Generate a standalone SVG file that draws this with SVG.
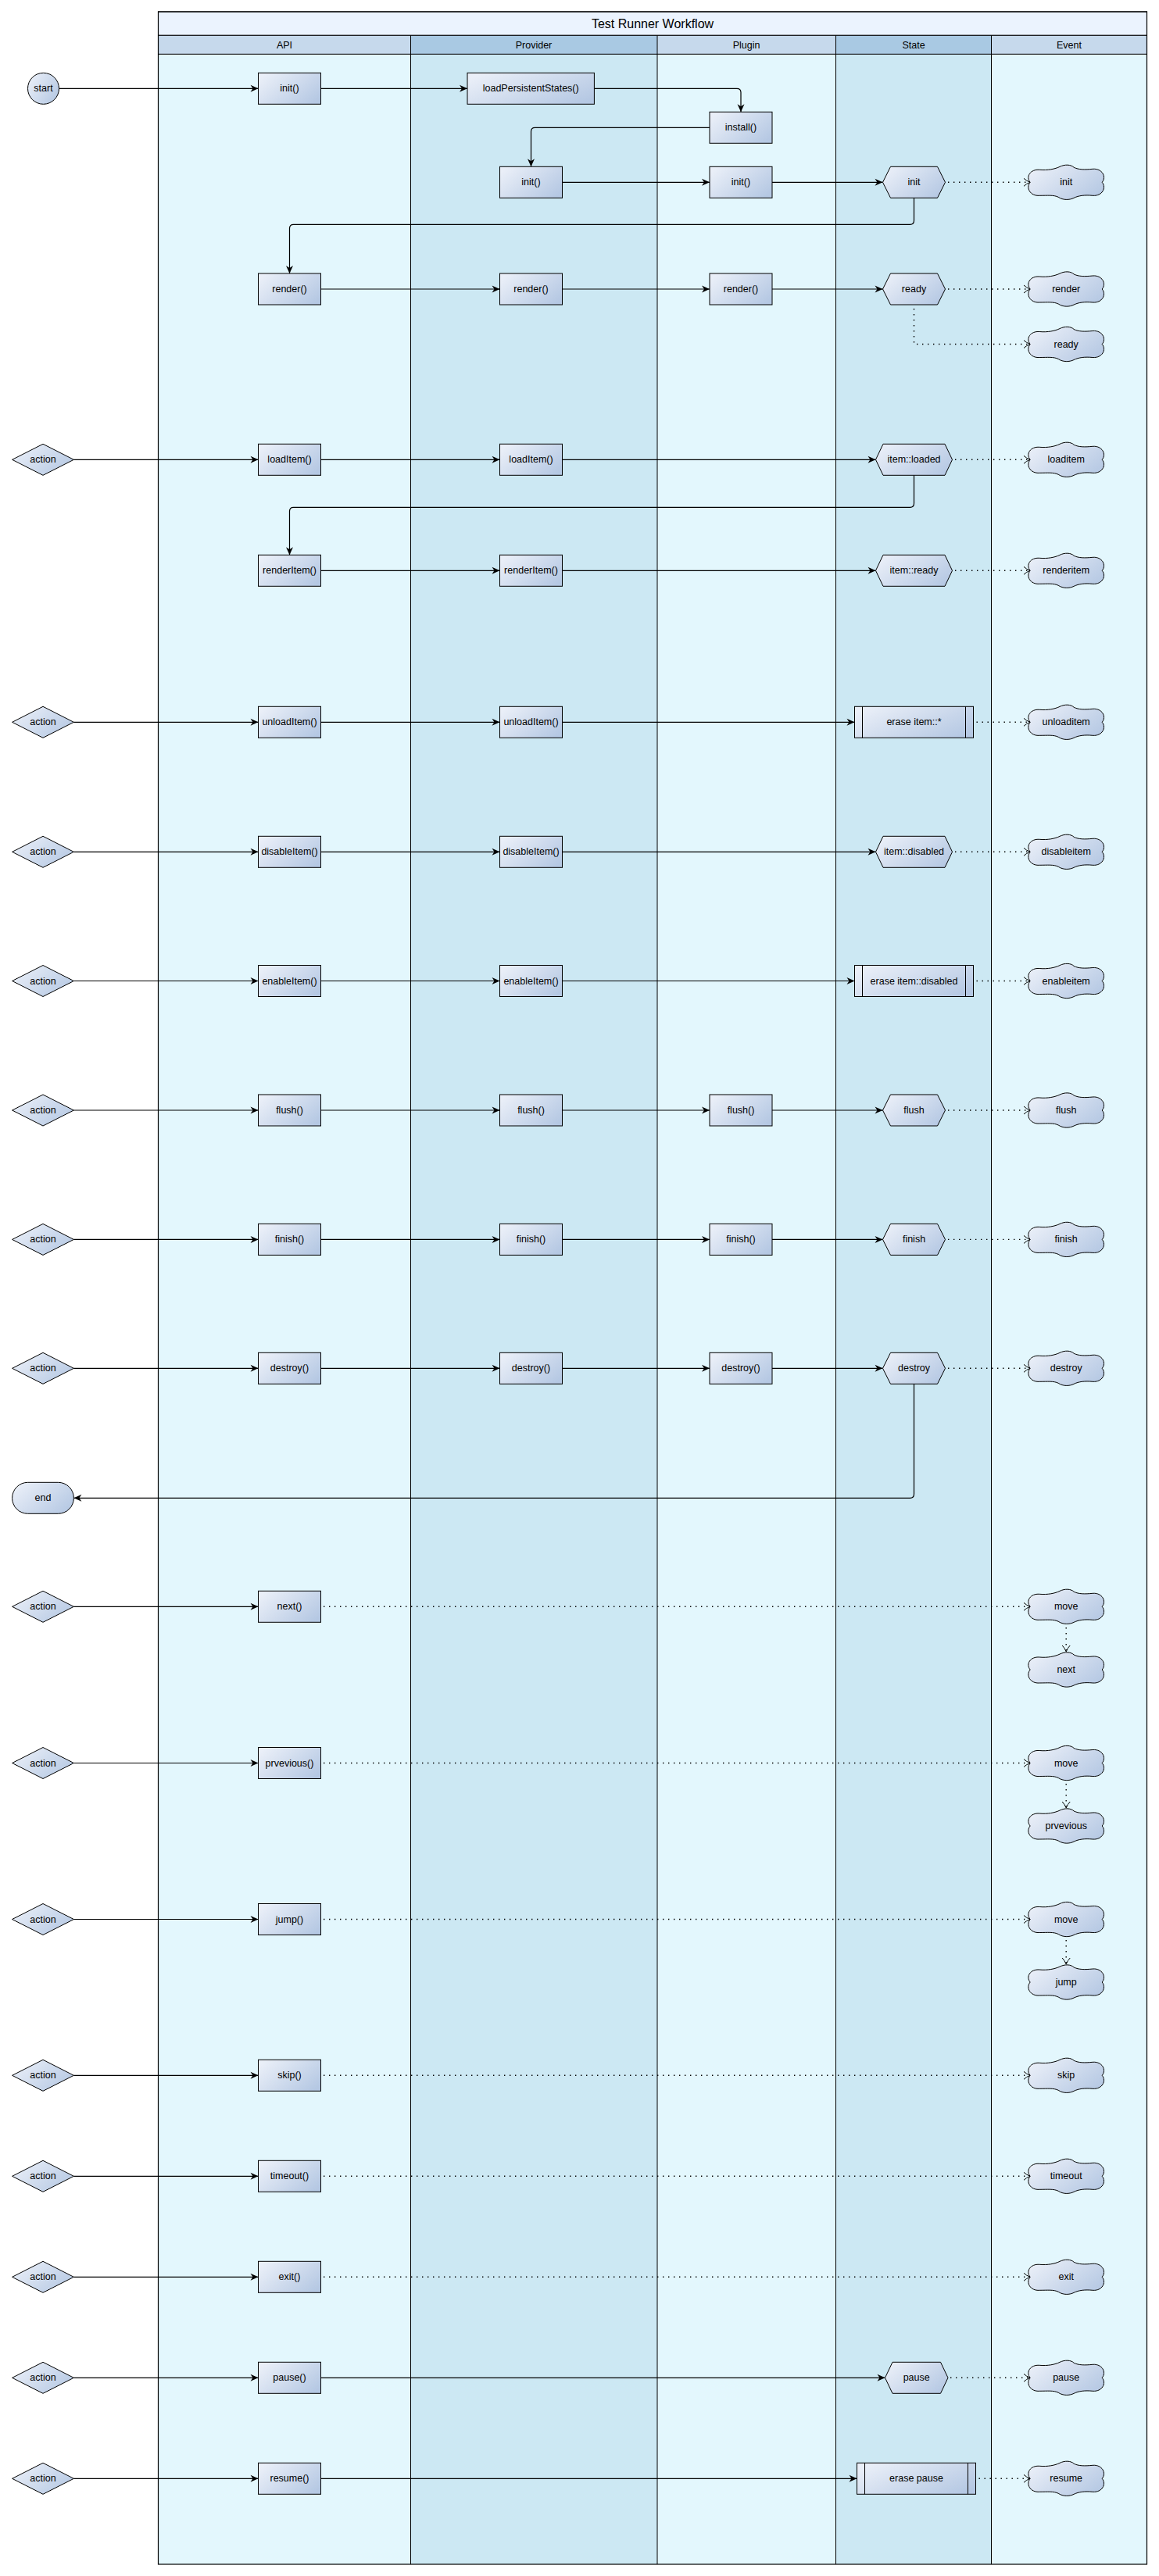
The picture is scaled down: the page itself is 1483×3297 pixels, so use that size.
<svg xmlns="http://www.w3.org/2000/svg" xmlns:xlink="http://www.w3.org/1999/xlink" width="1483" height="3297" viewBox="0 0 1483 3297">
<style>
.t{font-family:"Liberation Sans",Arial,sans-serif;font-size:12.5px;fill:#000;text-anchor:middle;dominant-baseline:central}
.title{font-size:16px}
.n{fill:url(#g);stroke:#000;stroke-width:1}
.ln{stroke:#000;stroke-width:1;fill:none}
.f{fill:none;stroke:#000;stroke-width:1.2;marker-end:url(#arr)}
.e{fill:none;stroke:#000;stroke-width:1.4;stroke-dasharray:1.4 5.6;marker-end:url(#open)}
.la{fill:#E3F7FD}.lb{fill:#CCE8F3}.ha{fill:#C6D9EC}.hb{fill:#A9C9E3}
</style>
<defs>
<linearGradient id="g" x1="0" y1="0.2" x2="1" y2="0.8">
<stop offset="0" stop-color="#EAEFF8"/>
<stop offset="1" stop-color="#B5C8E3"/>
</linearGradient>
<marker id="arr" markerUnits="userSpaceOnUse" markerWidth="12" markerHeight="12" refX="10" refY="5" orient="auto" overflow="visible">
<path d="M0,0.5 L10,5 L0,9.5 L3,5 Z" fill="#000"/>
</marker>
<marker id="open" markerUnits="userSpaceOnUse" markerWidth="12" markerHeight="12" refX="9" refY="5" orient="auto" overflow="visible">
<path d="M1,0 Q4,3 9,5 Q4,7 1,10" fill="none" stroke="#000" stroke-width="1"/>
</marker>
<path id="cloud" class="n" d="M-46,0 C-52,-7 -46,-17 -34,-16 C-24,-15 -14,-17 -8,-20 C-2,-23 6,-23 10,-19 C16,-16 24,-16 34,-17 C46,-18 52,-7 46,0 C52,7 46,18 34,17 C24,16 16,17 10,20 C4,23 -4,23 -10,19 C-16,16 -24,17 -34,17 C-46,18 -52,7 -46,0 Z"/>
</defs>
<rect width="1483" height="3297" fill="#fff"/>

<g id="pool">
<rect x="202.5" y="15" width="1265" height="30.3" fill="#EBF3FE" stroke="#000" stroke-width="1"/>
<text class="t title" x="835" y="30.5">Test Runner Workflow</text>
<rect class="ha" x="202.5" y="45.3" width="323" height="24"/>
<rect class="hb" x="525.5" y="45.3" width="315.5" height="24"/>
<rect class="ha" x="841" y="45.3" width="228.5" height="24"/>
<rect class="hb" x="1069.5" y="45.3" width="199" height="24"/>
<rect class="ha" x="1268.5" y="45.3" width="199" height="24"/>
<rect class="la" x="202.5" y="69.3" width="323" height="3212.7"/>
<rect class="lb" x="525.5" y="69.3" width="315.5" height="3212.7"/>
<rect class="la" x="841" y="69.3" width="228.5" height="3212.7"/>
<rect class="lb" x="1069.5" y="69.3" width="199" height="3212.7"/>
<rect class="la" x="1268.5" y="69.3" width="199" height="3212.7"/>
<text class="t" x="364" y="57.5">API</text>
<text class="t" x="683" y="57.5">Provider</text>
<text class="t" x="955" y="57.5">Plugin</text>
<text class="t" x="1169" y="57.5">State</text>
<text class="t" x="1368" y="57.5">Event</text>
<path class="ln" d="M202.5,45.3 H1467.5 M202.5,69.3 H1467.5 M525.5,45.3 V3282 M841,45.3 V3282 M1069.5,45.3 V3282 M1268.5,45.3 V3282"/>
<rect x="202.5" y="15" width="1265" height="3267" fill="none" stroke="#000" stroke-width="1.2"/>
</g>

<g id="connectors">
<path class="f" d="M75.5,113.3 H330.5"/>
<path class="f" d="M410.5,113.3 H598"/>
<path class="f" d="M760.4,113.3 H943 Q948,113.3 948,118.3 V143.3"/>
<path class="f" d="M908,163.3 H684.5 Q679.5,163.3 679.5,168.3 V213.3"/>
<path class="f" d="M719.5,233.3 H908"/>
<path class="f" d="M988,233.3 H1129.5"/>
<path class="e" d="M1213,233.3 H1318"/>
<path class="f" d="M1169.5,253.3 V282.3 Q1169.5,287.3 1164.5,287.3 H375.5 Q370.5,287.3 370.5,292.3 V350"/>
<path class="f" d="M410.5,370 H639.5"/>
<path class="f" d="M719.5,370 H908"/>
<path class="f" d="M988,370 H1129.5"/>
<path class="e" d="M1213,370 H1318"/>
<path class="e" d="M1169.5,395 V440.5 H1318"/>
<path class="f" d="M94.4,588.3 H330.5"/>
<path class="f" d="M410.5,588.3 H639.5"/>
<path class="f" d="M719.5,588.3 H1120.5"/>
<path class="e" d="M1222,588.3 H1318"/>
<path class="f" d="M1169.5,608.3 V644.3 Q1169.5,649.3 1164.5,649.3 H375.5 Q370.5,649.3 370.5,654.3 V710.3"/>
<path class="f" d="M410.5,730.3 H639.5"/>
<path class="f" d="M719.5,730.3 H1120.5"/>
<path class="e" d="M1222,730.3 H1318"/>
<path class="f" d="M94.4,924.3 H330.5"/>
<path class="f" d="M410.5,924.3 H639.5"/>
<path class="f" d="M719.5,924.3 H1093.5"/>
<path class="e" d="M1249.5,924.3 H1318"/>
<path class="f" d="M94.4,1090.3 H330.5"/>
<path class="f" d="M410.5,1090.3 H639.5"/>
<path class="f" d="M719.5,1090.3 H1120.5"/>
<path class="e" d="M1222,1090.3 H1318"/>
<path class="f" d="M94.4,1255.5 H330.5"/>
<path class="f" d="M410.5,1255.5 H639.5"/>
<path class="f" d="M719.5,1255.5 H1093.5"/>
<path class="e" d="M1249.5,1255.5 H1318"/>
<path class="f" d="M94.4,1421 H330.5"/>
<path class="f" d="M410.5,1421 H639.5"/>
<path class="f" d="M719.5,1421 H908"/>
<path class="f" d="M988,1421 H1129.5"/>
<path class="e" d="M1213,1421 H1318"/>
<path class="f" d="M94.4,1586.4 H330.5"/>
<path class="f" d="M410.5,1586.4 H639.5"/>
<path class="f" d="M719.5,1586.4 H908"/>
<path class="f" d="M988,1586.4 H1129.5"/>
<path class="e" d="M1213,1586.4 H1318"/>
<path class="f" d="M94.4,1751.3 H330.5"/>
<path class="f" d="M410.5,1751.3 H639.5"/>
<path class="f" d="M719.5,1751.3 H908"/>
<path class="f" d="M988,1751.3 H1129.5"/>
<path class="e" d="M1213,1751.3 H1318"/>
<path class="f" d="M1169.5,1771.3 V1912.3 Q1169.5,1917.3 1164.5,1917.3 H94.4"/>
<path class="f" d="M94.4,2056.3 H330.5"/>
<path class="e" d="M414,2056.3 H1318"/>
<path class="e" d="M1364.2,2083 V2114"/>
<path class="f" d="M94.4,2256.5 H330.5"/>
<path class="e" d="M414,2256.5 H1318"/>
<path class="e" d="M1364.2,2283 V2314"/>
<path class="f" d="M94.4,2456.5 H330.5"/>
<path class="e" d="M414,2456.5 H1318"/>
<path class="e" d="M1364.2,2483 V2514"/>
<path class="f" d="M94.4,2656.3 H330.5"/>
<path class="e" d="M414,2656.3 H1318"/>
<path class="f" d="M94.4,2785.3 H330.5"/>
<path class="e" d="M414,2785.3 H1318"/>
<path class="f" d="M94.4,2914.3 H330.5"/>
<path class="e" d="M414,2914.3 H1318"/>
<path class="f" d="M94.4,3043.3 H330.5"/>
<path class="f" d="M410.5,3043.3 H1132.5"/>
<path class="e" d="M1216,3043.3 H1318"/>
<path class="f" d="M94.4,3172.3 H330.5"/>
<path class="f" d="M410.5,3172.3 H1096.5"/>
<path class="e" d="M1252.5,3172.3 H1318"/>
</g>

<!-- start / end -->
<g id="start"><circle class="n" cx="55.5" cy="113.3" r="20"/><text class="t" x="55.5" y="113.3">start</text></g>
<g id="end"><rect class="n" x="15.6" y="1897.3" width="78.8" height="40" rx="20"/><text class="t" x="55" y="1917.3">end</text></g>

<!-- actions -->
<g id="act-loaditem"><polygon class="n" points="15.6,588.3 55,568.3 94.4,588.3 55,608.3"/><text class="t" x="55" y="588.3">action</text></g>
<g id="act-unloaditem"><polygon class="n" points="15.6,924.3 55,904.3 94.4,924.3 55,944.3"/><text class="t" x="55" y="924.3">action</text></g>
<g id="act-disableitem"><polygon class="n" points="15.6,1090.3 55,1070.3 94.4,1090.3 55,1110.3"/><text class="t" x="55" y="1090.3">action</text></g>
<g id="act-enableitem"><polygon class="n" points="15.6,1255.5 55,1235.5 94.4,1255.5 55,1275.5"/><text class="t" x="55" y="1255.5">action</text></g>
<g id="act-flush"><polygon class="n" points="15.6,1421 55,1401 94.4,1421 55,1441"/><text class="t" x="55" y="1421">action</text></g>
<g id="act-finish"><polygon class="n" points="15.6,1586.4 55,1566.4 94.4,1586.4 55,1606.4"/><text class="t" x="55" y="1586.4">action</text></g>
<g id="act-destroy"><polygon class="n" points="15.6,1751.3 55,1731.3 94.4,1751.3 55,1771.3"/><text class="t" x="55" y="1751.3">action</text></g>
<g id="act-next"><polygon class="n" points="15.6,2056.3 55,2036.3 94.4,2056.3 55,2076.3"/><text class="t" x="55" y="2056.3">action</text></g>
<g id="act-previous"><polygon class="n" points="15.6,2256.5 55,2236.5 94.4,2256.5 55,2276.5"/><text class="t" x="55" y="2256.5">action</text></g>
<g id="act-jump"><polygon class="n" points="15.6,2456.5 55,2436.5 94.4,2456.5 55,2476.5"/><text class="t" x="55" y="2456.5">action</text></g>
<g id="act-skip"><polygon class="n" points="15.6,2656.3 55,2636.3 94.4,2656.3 55,2676.3"/><text class="t" x="55" y="2656.3">action</text></g>
<g id="act-timeout"><polygon class="n" points="15.6,2785.3 55,2765.3 94.4,2785.3 55,2805.3"/><text class="t" x="55" y="2785.3">action</text></g>
<g id="act-exit"><polygon class="n" points="15.6,2914.3 55,2894.3 94.4,2914.3 55,2934.3"/><text class="t" x="55" y="2914.3">action</text></g>
<g id="act-pause"><polygon class="n" points="15.6,3043.3 55,3023.3 94.4,3043.3 55,3063.3"/><text class="t" x="55" y="3043.3">action</text></g>
<g id="act-resume"><polygon class="n" points="15.6,3172.3 55,3152.3 94.4,3172.3 55,3192.3"/><text class="t" x="55" y="3172.3">action</text></g>

<!-- API -->
<g id="api-init"><rect class="n" x="330.5" y="93.3" width="80" height="40"/><text class="t" x="370.5" y="113.3">init()</text></g>
<g id="api-render"><rect class="n" x="330.5" y="350" width="80" height="40"/><text class="t" x="370.5" y="370">render()</text></g>
<g id="api-loaditem"><rect class="n" x="330.5" y="568.3" width="80" height="40"/><text class="t" x="370.5" y="588.3">loadItem()</text></g>
<g id="api-renderitem"><rect class="n" x="330.5" y="710.3" width="80" height="40"/><text class="t" x="370.5" y="730.3">renderItem()</text></g>
<g id="api-unloaditem"><rect class="n" x="330.5" y="904.3" width="80" height="40"/><text class="t" x="370.5" y="924.3">unloadItem()</text></g>
<g id="api-disableitem"><rect class="n" x="330.5" y="1070.3" width="80" height="40"/><text class="t" x="370.5" y="1090.3">disableItem()</text></g>
<g id="api-enableitem"><rect class="n" x="330.5" y="1235.5" width="80" height="40"/><text class="t" x="370.5" y="1255.5">enableItem()</text></g>
<g id="api-flush"><rect class="n" x="330.5" y="1401" width="80" height="40"/><text class="t" x="370.5" y="1421">flush()</text></g>
<g id="api-finish"><rect class="n" x="330.5" y="1566.4" width="80" height="40"/><text class="t" x="370.5" y="1586.4">finish()</text></g>
<g id="api-destroy"><rect class="n" x="330.5" y="1731.3" width="80" height="40"/><text class="t" x="370.5" y="1751.3">destroy()</text></g>
<g id="api-next"><rect class="n" x="330.5" y="2036.3" width="80" height="40"/><text class="t" x="370.5" y="2056.3">next()</text></g>
<g id="api-previous"><rect class="n" x="330.5" y="2236.5" width="80" height="40"/><text class="t" x="370.5" y="2256.5">prvevious()</text></g>
<g id="api-jump"><rect class="n" x="330.5" y="2436.5" width="80" height="40"/><text class="t" x="370.5" y="2456.5">jump()</text></g>
<g id="api-skip"><rect class="n" x="330.5" y="2636.3" width="80" height="40"/><text class="t" x="370.5" y="2656.3">skip()</text></g>
<g id="api-timeout"><rect class="n" x="330.5" y="2765.3" width="80" height="40"/><text class="t" x="370.5" y="2785.3">timeout()</text></g>
<g id="api-exit"><rect class="n" x="330.5" y="2894.3" width="80" height="40"/><text class="t" x="370.5" y="2914.3">exit()</text></g>
<g id="api-pause"><rect class="n" x="330.5" y="3023.3" width="80" height="40"/><text class="t" x="370.5" y="3043.3">pause()</text></g>
<g id="api-resume"><rect class="n" x="330.5" y="3152.3" width="80" height="40"/><text class="t" x="370.5" y="3172.3">resume()</text></g>

<!-- Provider -->
<g id="prov-loadpersistentstates"><rect class="n" x="598" y="93.3" width="162.4" height="40"/><text class="t" x="679.2" y="113.3">loadPersistentStates()</text></g>
<g id="prov-init"><rect class="n" x="639.5" y="213.3" width="80" height="40"/><text class="t" x="679.5" y="233.3">init()</text></g>
<g id="prov-render"><rect class="n" x="639.5" y="350" width="80" height="40"/><text class="t" x="679.5" y="370">render()</text></g>
<g id="prov-loaditem"><rect class="n" x="639.5" y="568.3" width="80" height="40"/><text class="t" x="679.5" y="588.3">loadItem()</text></g>
<g id="prov-renderitem"><rect class="n" x="639.5" y="710.3" width="80" height="40"/><text class="t" x="679.5" y="730.3">renderItem()</text></g>
<g id="prov-unloaditem"><rect class="n" x="639.5" y="904.3" width="80" height="40"/><text class="t" x="679.5" y="924.3">unloadItem()</text></g>
<g id="prov-disableitem"><rect class="n" x="639.5" y="1070.3" width="80" height="40"/><text class="t" x="679.5" y="1090.3">disableItem()</text></g>
<g id="prov-enableitem"><rect class="n" x="639.5" y="1235.5" width="80" height="40"/><text class="t" x="679.5" y="1255.5">enableItem()</text></g>
<g id="prov-flush"><rect class="n" x="639.5" y="1401" width="80" height="40"/><text class="t" x="679.5" y="1421">flush()</text></g>
<g id="prov-finish"><rect class="n" x="639.5" y="1566.4" width="80" height="40"/><text class="t" x="679.5" y="1586.4">finish()</text></g>
<g id="prov-destroy"><rect class="n" x="639.5" y="1731.3" width="80" height="40"/><text class="t" x="679.5" y="1751.3">destroy()</text></g>

<!-- Plugin -->
<g id="plug-install"><rect class="n" x="908" y="143.3" width="80" height="40"/><text class="t" x="948" y="163.3">install()</text></g>
<g id="plug-init"><rect class="n" x="908" y="213.3" width="80" height="40"/><text class="t" x="948" y="233.3">init()</text></g>
<g id="plug-render"><rect class="n" x="908" y="350" width="80" height="40"/><text class="t" x="948" y="370">render()</text></g>
<g id="plug-flush"><rect class="n" x="908" y="1401" width="80" height="40"/><text class="t" x="948" y="1421">flush()</text></g>
<g id="plug-finish"><rect class="n" x="908" y="1566.4" width="80" height="40"/><text class="t" x="948" y="1586.4">finish()</text></g>
<g id="plug-destroy"><rect class="n" x="908" y="1731.3" width="80" height="40"/><text class="t" x="948" y="1751.3">destroy()</text></g>

<!-- State -->
<g id="st-init"><polygon class="n" points="1129.5,233.3 1139.5,213.3 1199.5,213.3 1209.5,233.3 1199.5,253.3 1139.5,253.3"/><text class="t" x="1169.5" y="233.3">init</text></g>
<g id="st-ready"><polygon class="n" points="1129.5,370 1139.5,350 1199.5,350 1209.5,370 1199.5,390 1139.5,390"/><text class="t" x="1169.5" y="370">ready</text></g>
<g id="st-itemloaded"><polygon class="n" points="1120.5,588.3 1130,568.3 1209,568.3 1218.5,588.3 1209,608.3 1130,608.3"/><text class="t" x="1169.5" y="588.3">item::loaded</text></g>
<g id="st-itemready"><polygon class="n" points="1120.5,730.3 1130,710.3 1209,710.3 1218.5,730.3 1209,750.3 1130,750.3"/><text class="t" x="1169.5" y="730.3">item::ready</text></g>
<g id="st-eraseitem"><rect class="n" x="1093.5" y="904.3" width="152" height="40"/><path class="ln" d="M1103.5,904.3 V944.3 M1235.5,904.3 V944.3"/><text class="t" x="1169.5" y="924.3">erase item::*</text></g>
<g id="st-itemdisabled"><polygon class="n" points="1120.5,1090.3 1130,1070.3 1209,1070.3 1218.5,1090.3 1209,1110.3 1130,1110.3"/><text class="t" x="1169.5" y="1090.3">item::disabled</text></g>
<g id="st-erasedisabled"><rect class="n" x="1093.5" y="1235.5" width="152" height="40"/><path class="ln" d="M1103.5,1235.5 V1275.5 M1235.5,1235.5 V1275.5"/><text class="t" x="1169.5" y="1255.5">erase item::disabled</text></g>
<g id="st-flush"><polygon class="n" points="1129.5,1421 1139.5,1401 1199.5,1401 1209.5,1421 1199.5,1441 1139.5,1441"/><text class="t" x="1169.5" y="1421">flush</text></g>
<g id="st-finish"><polygon class="n" points="1129.5,1586.4 1139.5,1566.4 1199.5,1566.4 1209.5,1586.4 1199.5,1606.4 1139.5,1606.4"/><text class="t" x="1169.5" y="1586.4">finish</text></g>
<g id="st-destroy"><polygon class="n" points="1129.5,1751.3 1139.5,1731.3 1199.5,1731.3 1209.5,1751.3 1199.5,1771.3 1139.5,1771.3"/><text class="t" x="1169.5" y="1751.3">destroy</text></g>
<g id="st-pause"><polygon class="n" points="1132.5,3043.3 1142,3023.3 1203.5,3023.3 1213,3043.3 1203.5,3063.3 1142,3063.3"/><text class="t" x="1172.7" y="3043.3">pause</text></g>
<g id="st-erasepause"><rect class="n" x="1096.5" y="3152.3" width="152" height="40"/><path class="ln" d="M1106.5,3152.3 V3192.3 M1238.5,3152.3 V3192.3"/><text class="t" x="1172.5" y="3172.3">erase pause</text></g>

<!-- Event -->
<g id="ev-init"><use href="#cloud" x="1364.2" y="233.3"/><text class="t" x="1364.2" y="233.3">init</text></g>
<g id="ev-render"><use href="#cloud" x="1364.2" y="370"/><text class="t" x="1364.2" y="370">render</text></g>
<g id="ev-ready"><use href="#cloud" x="1364.2" y="440.5"/><text class="t" x="1364.2" y="440.5">ready</text></g>
<g id="ev-loaditem"><use href="#cloud" x="1364.2" y="588.3"/><text class="t" x="1364.2" y="588.3">loaditem</text></g>
<g id="ev-renderitem"><use href="#cloud" x="1364.2" y="730.3"/><text class="t" x="1364.2" y="730.3">renderitem</text></g>
<g id="ev-unloaditem"><use href="#cloud" x="1364.2" y="924.3"/><text class="t" x="1364.2" y="924.3">unloaditem</text></g>
<g id="ev-disableitem"><use href="#cloud" x="1364.2" y="1090.3"/><text class="t" x="1364.2" y="1090.3">disableitem</text></g>
<g id="ev-enableitem"><use href="#cloud" x="1364.2" y="1255.5"/><text class="t" x="1364.2" y="1255.5">enableitem</text></g>
<g id="ev-flush"><use href="#cloud" x="1364.2" y="1421"/><text class="t" x="1364.2" y="1421">flush</text></g>
<g id="ev-finish"><use href="#cloud" x="1364.2" y="1586.4"/><text class="t" x="1364.2" y="1586.4">finish</text></g>
<g id="ev-destroy"><use href="#cloud" x="1364.2" y="1751.3"/><text class="t" x="1364.2" y="1751.3">destroy</text></g>
<g id="ev-move1"><use href="#cloud" x="1364.2" y="2056.3"/><text class="t" x="1364.2" y="2056.3">move</text></g>
<g id="ev-next"><use href="#cloud" x="1364.2" y="2137"/><text class="t" x="1364.2" y="2137">next</text></g>
<g id="ev-move2"><use href="#cloud" x="1364.2" y="2256.5"/><text class="t" x="1364.2" y="2256.5">move</text></g>
<g id="ev-previous"><use href="#cloud" x="1364.2" y="2337"/><text class="t" x="1364.2" y="2337">prvevious</text></g>
<g id="ev-move3"><use href="#cloud" x="1364.2" y="2456.5"/><text class="t" x="1364.2" y="2456.5">move</text></g>
<g id="ev-jump"><use href="#cloud" x="1364.2" y="2537"/><text class="t" x="1364.2" y="2537">jump</text></g>
<g id="ev-skip"><use href="#cloud" x="1364.2" y="2656.3"/><text class="t" x="1364.2" y="2656.3">skip</text></g>
<g id="ev-timeout"><use href="#cloud" x="1364.2" y="2785.3"/><text class="t" x="1364.2" y="2785.3">timeout</text></g>
<g id="ev-exit"><use href="#cloud" x="1364.2" y="2914.3"/><text class="t" x="1364.2" y="2914.3">exit</text></g>
<g id="ev-pause"><use href="#cloud" x="1364.2" y="3043.3"/><text class="t" x="1364.2" y="3043.3">pause</text></g>
<g id="ev-resume"><use href="#cloud" x="1364.2" y="3172.3"/><text class="t" x="1364.2" y="3172.3">resume</text></g>
</svg>
